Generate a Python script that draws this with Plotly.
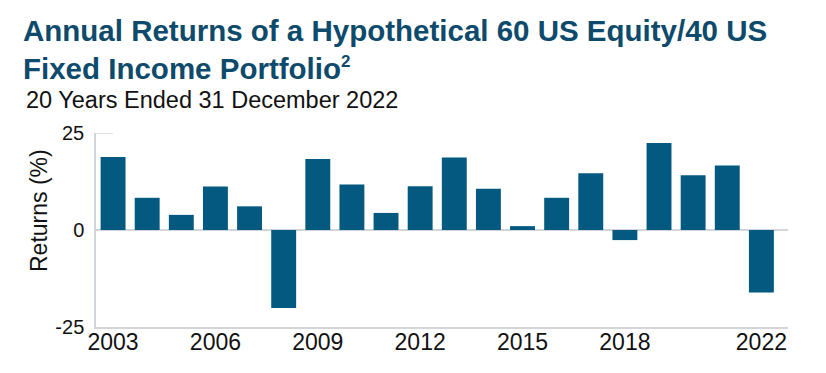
import plotly.graph_objects as go

years = list(range(2003, 2023))
returns = [18.8, 8.3, 3.9, 11.2, 6.1, -20.1, 18.3, 11.7, 4.4, 11.3,
           18.7, 10.6, 1.0, 8.3, 14.6, -2.6, 22.4, 14.1, 16.6, -16.1]
x_tick_years = [2003, 2006, 2009, 2012, 2015, 2018, 2022]
y_ticks = [-25, 0, 25]

title_line1 = "Annual Returns of a Hypothetical 60 US Equity/40 US"
title_line2 = "Fixed Income Portfolio<sup><span style='font-size:17px'>2</span></sup>"
subtitle = "20 Years Ended 31 December 2022"
y_title = "Returns (%)"

BAR = "#03597F"
TITLE = "#0D4A6B"
GRAY = "#D3D6D8"
FONT = "Liberation Sans, Arial, Helvetica, sans-serif"

# page body has an 8px margin, so the figure is 8px smaller than the window
W, H = 818, 365
ML, MR, MT, MB = 88, 38, 125, 46
ph = H - MT - MB


def py(pix):
    return (H - MB - pix) / ph


def px(pix):
    return (pix - ML) / (W - ML - MR)


fig = go.Figure(go.Bar(x=years, y=returns, marker=dict(color=BAR, line=dict(width=0)),
                       width=0.73))

fig.update_layout(
    width=W, height=H,
    margin=dict(l=ML, r=MR, t=MT, b=MB),
    paper_bgcolor="white", plot_bgcolor="white",
    showlegend=False,
    font=dict(family=FONT, color="#111111"),
    xaxis=dict(range=[2002.5, 2022.78], tickvals=x_tick_years,
               ticktext=[str(v) for v in x_tick_years],
               showgrid=False, zeroline=False, showline=True, linecolor=GRAY,
               linewidth=1.5, ticks="", ticklabelstandoff=-6,
               tickfont=dict(size=23, color="#111111")),
    yaxis=dict(range=[-25, 25], tickvals=y_ticks, ticktext=[str(v) for v in y_ticks],
               showgrid=False, zeroline=True, zerolinecolor=GRAY, zerolinewidth=1.5,
               showline=True, linecolor=GRAY, linewidth=1.5,
               ticks="", ticklabelstandoff=6,
               tickfont=dict(size=20, color="#111111")),
    shapes=[
        dict(type="line", xref="paper", yref="y", x0=0, x1=px(ML + 17),
             y0=y_ticks[-1], y1=y_ticks[-1], line=dict(color=GRAY, width=1.5)),
    ],
    annotations=[
        dict(text=f"<b>{title_line1}<br>{title_line2}</b>", xref="paper", yref="paper",
             x=px(13), y=py(4), xanchor="left", yanchor="top", align="left",
             showarrow=False, font=dict(size=29.5, color=TITLE, family=FONT)),
        dict(text=subtitle, xref="paper", yref="paper",
             x=px(16), y=py(77), xanchor="left", yanchor="top", showarrow=False,
             font=dict(size=23.5, color="#111111", family=FONT)),
        dict(text=y_title, xref="paper", yref="paper", textangle=-90,
             x=px(31), y=py(203), xanchor="center", yanchor="middle", showarrow=False,
             font=dict(size=23, color="#111111", family=FONT)),
    ],
)

fig.write_html("out.html")
